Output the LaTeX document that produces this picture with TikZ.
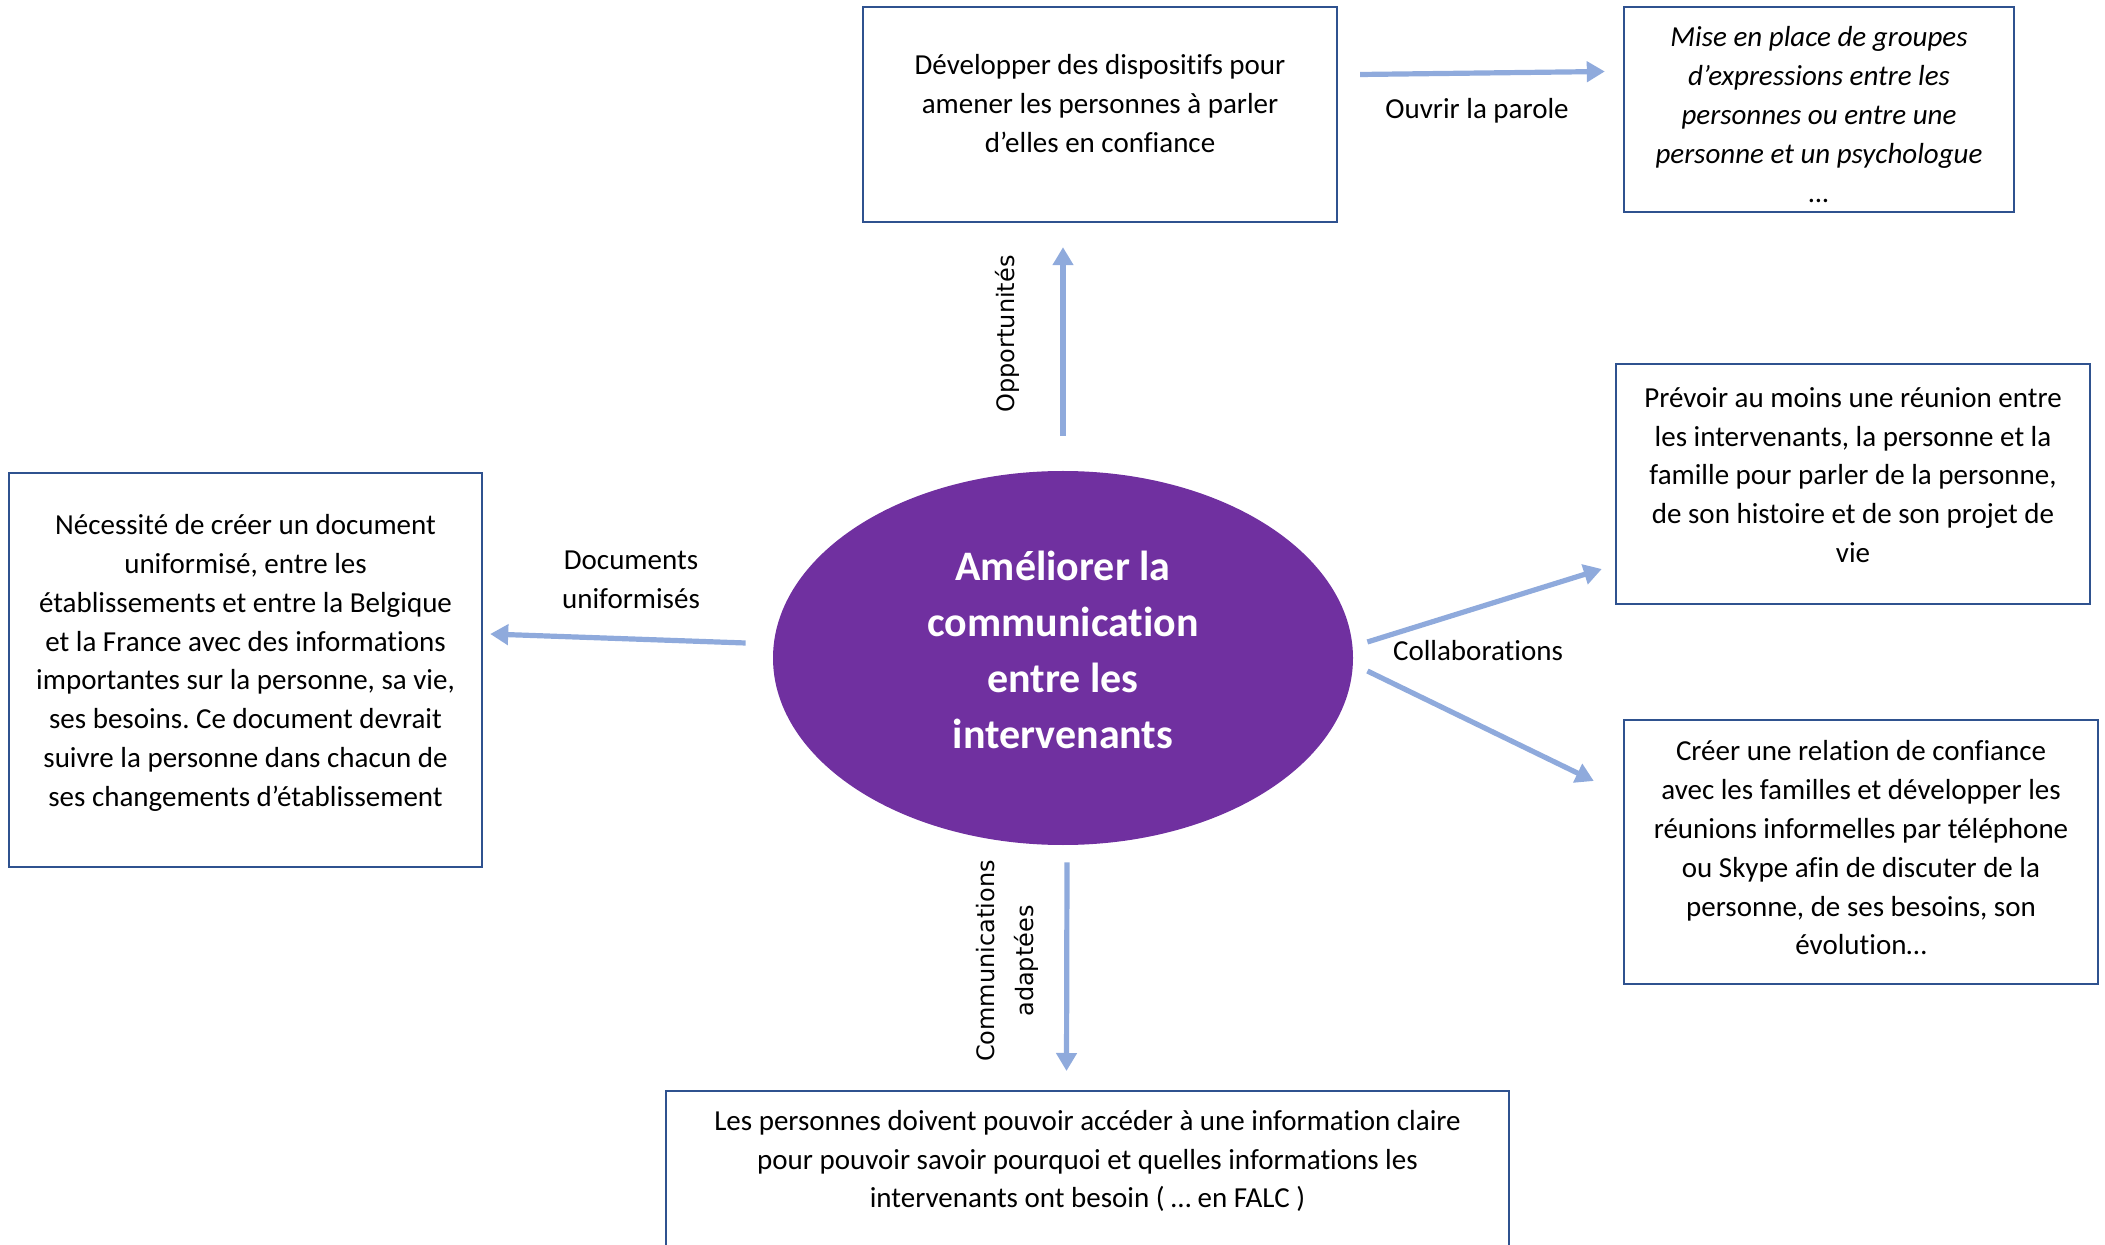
\documentclass[tikz,border=0pt]{standalone}
\usepackage{fontspec}
\setmainfont{Carlito}[Ligatures=NoCommon]
\newfontfamily\vlabelfont{DejaVu Sans}
\usetikzlibrary{shapes.geometric,arrows.meta,calc}
\definecolor{bordbleu}{HTML}{2F528F}
\definecolor{flecheb}{HTML}{8FAADC}
\definecolor{violetc}{HTML}{7030A0}
\frenchspacing
\begin{document}
\begin{tikzpicture}[x=0.5pt,y=-0.5pt,
	cadre/.style={draw=bordbleu,line width=1.2pt,rectangle,inner sep=0pt},
	fleche/.style={draw=flecheb,line width=2.6pt,-{Triangle[length=9pt,width=10pt]}},
	etiq/.style={align=center,inner sep=0pt,font=\fontsize{14.5}{19.4}\selectfont},
	vetiq/.style={align=center,inner sep=0pt,rotate=90,font=\vlabelfont\fontsize{12}{19.5}\selectfont}]
	\useasboundingbox (0,0) rectangle (2105,1245);
	\clip (0,0) rectangle (2105,1245);
	% ellipse centrale
	\node[ellipse,fill=violetc,minimum width=290pt,minimum height=187pt,inner sep=0pt] (amel) at (1063,658) {};
	\node[align=center,inner sep=0pt,text=white,font=\fontsize{21}{28}\selectfont\bfseries] (ameltxt) at ($(amel)+(0,-8)$) {Améliorer la\\communication\\entre les\\intervenants};
	% cadres
	\node[cadre,minimum width=237pt,minimum height=107.5pt] (dev) at (1100,114.5) {};
	\node[cadre,minimum width=195pt,minimum height=102.5pt] (mise) at (1819,109.5) {};
	\node[cadre,minimum width=236.5pt,minimum height=197pt] (neces) at (245.5,670) {};
	\node[cadre,minimum width=237pt,minimum height=120pt] (prev) at (1853,484) {};
	\node[cadre,minimum width=237pt,minimum height=132pt] (creer) at (1861,852) {};
	\node[cadre,anchor=north,minimum width=421.5pt,minimum height=110pt] (falc) at (1087.5,1090) {};
	\node[etiq] (devtxt) at ($(dev)+(0,-11)$) {Développer des dispositifs pour\\amener les personnes à parler\\d’elles en confiance};
	\node[etiq,font=\fontsize{14.5}{19.4}\selectfont\itshape] (misetxt) at ($(mise)+(0,5)$) {Mise en place de groupes\\d’expressions entre les\\personnes ou entre une\\personne et un psychologue\\…};
	\node[etiq] (necestxt) at ($(neces)+(0,-7)$) {Nécessité de créer un document\\uniformisé, entre les\\établissements et entre la Belgique\\et la France avec des informations\\importantes sur la personne, sa vie,\\ses besoins. Ce document devrait\\suivre la personne dans chacun de\\ses changements d’établissement};
	\node[etiq] (prevtxt) at ($(prev)+(0,-9)$) {Prévoir au moins une réunion entre\\les intervenants, la personne et la\\famille pour parler de la personne,\\de son histoire et de son projet de\\vie};
	\node[etiq] (creertxt) at ($(creer)+(0,-4)$) {Créer une relation de confiance\\avec les familles et développer les\\réunions informelles par téléphone\\ou Skype afin de discuter de la\\personne, de ses besoins, son\\évolution…};
	\node[etiq] (falctxt) at ($(falc.north)+(0,71)$) {Les personnes doivent pouvoir accéder à une information claire\\pour pouvoir savoir pourquoi et quelles informations les\\intervenants ont besoin ( … en FALC )};
	% fleches
	\draw[fleche] ($(amel.north)+(0,-35)$) -- ($(amel.north |- dev.south)+(0,24)$);
	\draw[fleche] ($(dev.east)+(22,-40)$) -- ($(mise.west)+(-18,-38)$);
	\draw[fleche] ($(amel.west)+(-27,-15)$) -- ($(neces.east)+(7,-36)$);
	\draw[fleche] ($(amel.south)+(4,17)$) -- ($(falc.north)+(-21,-19)$);
	\draw[fleche] ($(amel.east)+(14,-16)$) -- ($(prev.west)+(-13,85)$);
	\draw[fleche] ($(amel.east)+(14,13)$) -- ($(creer.west)+(-29,-71)$);
	% etiquettes
	\node[vetiq] (opp) at (1007,334) {Opportunités};
	\node[etiq] (ouvr) at (1477,111) {Ouvrir la parole};
	\node[etiq] (docu) at (631,580) {Documents\\uniformisés};
	\node[etiq] (colla) at (1478,651) {Collaborations};
	\node[vetiq] (comm) at (1007,961) {Communications\\adaptées};
\end{tikzpicture}
\end{document}
